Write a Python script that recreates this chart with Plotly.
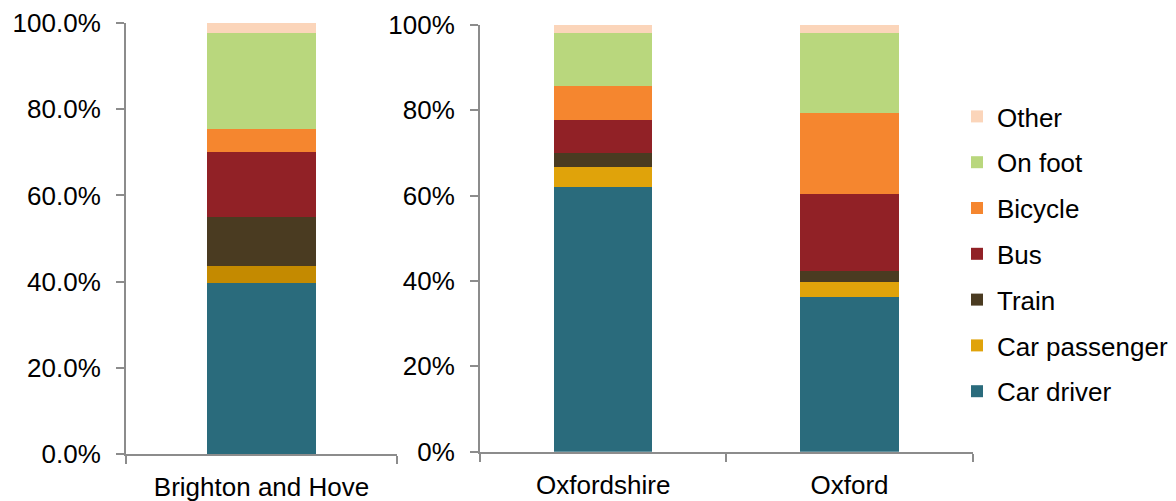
import plotly.graph_objects as go

# Travel-to-work mode share (%), stacked bottom to top
modes = ["Car driver", "Car passenger", "Train", "Bus", "Bicycle", "On foot", "Other"]
colors = ["#2A6B7C", "#E0A30A", "#4A3B21", "#912126", "#F5862F", "#B9D77D", "#FBD5BA"]
brighton_color_override = {"Car passenger": "#C48A00"}

left_areas = ["Brighton and Hove"]
right_areas = ["Oxfordshire", "Oxford"]

brighton = [39.7, 3.9, 11.4, 15.1, 5.3, 22.3, 2.3]
oxfordshire = [62.0, 4.8, 3.2, 7.7, 7.9, 12.5, 1.9]
oxford = [36.3, 3.4, 2.6, 18.0, 19.0, 18.8, 1.9]

FONT = "Liberation Sans, Arial, sans-serif"
FS = 26
AXIS_GREY = "#8C8C8C"
W, H = 1176, 501

fig = go.Figure()
for i, mode in enumerate(modes):
    rank = len(modes) - i  # legend lists the top segment first
    fig.add_trace(go.Bar(
        x=left_areas, y=[brighton[i]], name=mode,
        marker=dict(color=brighton_color_override.get(mode, colors[i]), line=dict(width=0)),
        legendgroup=mode, legendrank=rank, showlegend=False, xaxis="x", yaxis="y",
    ))
    fig.add_trace(go.Bar(
        x=right_areas, y=[oxfordshire[i], oxford[i]], name=mode,
        marker=dict(color=colors[i], line=dict(width=0)),
        legendgroup=mode, legendrank=rank, showlegend=True, xaxis="x2", yaxis="y2",
    ))

def px_x(p):
    return p / W

def px_y(p):
    return (H - p) / H

common_x = dict(
    type="category", showline=True, linecolor=AXIS_GREY, linewidth=2,
    ticks="outside", tickson="boundaries", ticklen=8, tickwidth=2, tickcolor=AXIS_GREY,
    showgrid=False, zeroline=False, tickfont=dict(size=FS, color="black", family=FONT),
    ticklabelstandoff=9, automargin=False,
)
common_y = dict(
    range=[0, 100], dtick=20, showline=True, linecolor=AXIS_GREY, linewidth=2,
    ticks="outside", ticklen=8, tickwidth=2, tickcolor=AXIS_GREY,
    showgrid=False, zeroline=False, tickfont=dict(size=FS, color="black", family=FONT),
    ticksuffix="%", ticklabelstandoff=10, automargin=False,
)

fig.update_layout(
    width=W, height=H,
    margin=dict(l=0, r=0, t=0, b=0, autoexpand=False),
    paper_bgcolor="white", plot_bgcolor="white",
    barmode="stack", bargap=0.6,
    font=dict(family=FONT, size=FS, color="black"),
    xaxis=dict(common_x, domain=[px_x(126), px_x(397)], anchor="y", range=[-0.5, 0.5]),
    yaxis=dict(common_y, domain=[px_y(454), px_y(23)], anchor="x", tickformat=".1f"),
    xaxis2=dict(common_x, domain=[px_x(480), px_x(972.7)], anchor="y2", range=[-0.5, 1.5]),
    yaxis2=dict(common_y, domain=[px_y(451.7), px_y(25)], anchor="x2", tickformat=".0f"),
    legend=dict(
        x=px_x(957), y=px_y(93), xanchor="left", yanchor="top",
        traceorder="grouped", tracegroupgap=9,
        font=dict(size=FS, color="black", family=FONT),
        bgcolor="rgba(0,0,0,0)",
    ),
)

fig.write_html("out.html")
